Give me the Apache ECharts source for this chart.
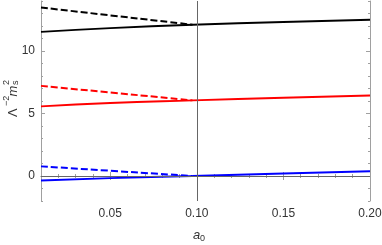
<!DOCTYPE html>
<html>
<head>
<meta charset="utf-8">
<script src="https://cdn.jsdelivr.net/npm/echarts@6/dist/echarts.min.js"></script>
<style>html,body{margin:0;padding:0;background:#fff}#c{width:382px;height:245px}</style>
</head>
<body>
<div id="c"></div>
<script>
// ---- data ----
const a0Solid = [0.01, 0.05, 0.0975, 0.15, 0.20];
const blackSolid = [11.53, 11.83, 12.1, 12.32, 12.5];
const redSolid = [5.57, 5.84, 6.05, 6.26, 6.44];
const blueSolid = [-0.36, -0.17, 0.0, 0.2, 0.38];
const a0Dashed = [0.01, 0.05, 0.0975];
const blackDashed = [13.48, 12.85, 12.1];
const redDashed = [7.21, 6.68, 6.05];
const blueDashed = [0.77, 0.42, 0.0];
const xTicks = [0.05, 0.10, 0.15, 0.20];
const yTicks = [0, 5, 10];
const a0Crit = 0.0975;

const pair = (xs, ys) => xs.map((x, i) => [x, ys[i]]);
const frame = '#a0a0a0';
const font = 'Liberation Sans, Arial, sans-serif';

function xAx(pos, major, showLabel, showLine) {
  const o = {
    type: 'value', position: pos, min: 0.01, max: 0.20,
    axisLine: { show: showLine, lineStyle: { color: frame, width: 1 } },
    splitLine: { show: false },
    axisTick: { show: true, inside: true, length: major ? 4 : 2, lineStyle: { color: frame } },
    axisLabel: { show: showLabel, color: '#333', fontSize: 12, fontFamily: font, margin: 7,
      formatter: v => v.toFixed(2) }
  };
  if (major) {
    o.axisTick.customValues = xTicks;
    o.axisLabel.customValues = xTicks;
  } else {
    o.interval = 0.01;
  }
  return o;
}
function yAx(pos, major, showLabel, showLine) {
  const o = {
    type: 'value', position: pos, min: -2, max: 14,
    axisLine: { show: showLine, lineStyle: { color: frame, width: 1 } },
    splitLine: { show: false },
    axisTick: { show: true, inside: true, length: major ? 4 : 2, lineStyle: { color: frame } },
    axisLabel: { show: showLabel, color: '#333', fontSize: 12, fontFamily: font, margin: 6 }
  };
  if (major) {
    o.axisTick.customValues = yTicks;
    o.axisLabel.customValues = yTicks;
  } else {
    o.interval = 1;
  }
  return o;
}

function line(data, color, dashed) {
  return {
    type: 'line', data, xAxisIndex: 0, yAxisIndex: 0, showSymbol: false, symbol: 'none',
    smooth: true, animation: false, silent: true,
    lineStyle: { color, width: 2, type: dashed ? [7, 3] : 'solid' }
  };
}

const chart = echarts.init(document.getElementById('c'));
chart.setOption({
  animation: false,
  grid: { left: 41, right: 12, top: 1, bottom: 44, containLabel: false, outerBoundsMode: 'none' },
  xAxis: [xAx('bottom', true, true, true), xAx('bottom', false, false, false),
          xAx('top', true, false, true), xAx('top', false, false, false)],
  yAxis: [yAx('left', true, true, true), yAx('left', false, false, false),
          yAx('right', true, false, true), yAx('right', false, false, false)],
  series: [
    Object.assign(line(pair(a0Solid, blueSolid), '#0000ff', false), {
      markLine: { silent: true, symbol: 'none', label: { show: false }, animation: false,
        lineStyle: { color: '#666', width: 1, type: 'solid' },
        data: [{ xAxis: a0Crit }, { yAxis: 0 }] }
    }),
    line(pair(a0Dashed, blueDashed), '#0000ff', true),
    line(pair(a0Solid, redSolid), '#ff0000', false),
    line(pair(a0Dashed, redDashed), '#ff0000', true),
    line(pair(a0Solid, blackSolid), '#000000', false),
    line(pair(a0Dashed, blackDashed), '#000000', true)
  ],
  graphic: [
    { type: 'group', x: 13, y: 98, rotation: Math.PI / 2, silent: true,
      children: [
        { type: 'text', x: -19, y: 0, style: { text: 'Λ', fontSize: 13, fontFamily: font, fill: '#333', verticalAlign: 'middle', align: 'left' } },
        { type: 'text', x: -8, y: -6, style: { text: '−2', fontSize: 9, fontFamily: font, fill: '#333', verticalAlign: 'middle', align: 'left' } },
        { type: 'text', x: 1.5, y: 0, style: { text: 'm', fontSize: 13, fontStyle: 'italic', fontFamily: font, fill: '#333', verticalAlign: 'middle', align: 'left' } },
        { type: 'text', x: 13, y: -6, style: { text: '2', fontSize: 9, fontFamily: font, fill: '#333', verticalAlign: 'middle', align: 'left' } },
        { type: 'text', x: 13, y: 3, style: { text: 's', fontSize: 9, fontFamily: font, fill: '#333', verticalAlign: 'middle', align: 'left' } }
      ] },
    { type: 'text', x: 193, y: 235, silent: true, style: { text: 'a', fontSize: 13, fontStyle: 'italic', fontFamily: font, fill: '#333', verticalAlign: 'middle', align: 'left' } },
    { type: 'text', x: 200, y: 239, silent: true, style: { text: '0', fontSize: 9, fontFamily: font, fill: '#333', verticalAlign: 'middle', align: 'left' } }
  ]
});
</script>
</body>
</html>
